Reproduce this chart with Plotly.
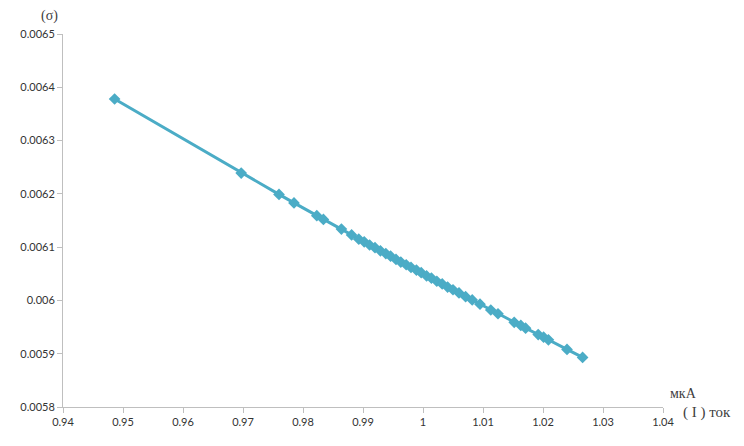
import plotly.graph_objects as go

# current (uA) and sigma readings taken from the chart
current = [0.9486, 0.9697, 0.9760, 0.9785, 0.9823, 0.9834, 0.9864, 0.9881, 0.9893,
           0.9902, 0.9911, 0.9920, 0.9929, 0.9938, 0.9946, 0.9955, 0.9963, 0.9972,
           0.9980, 0.9989, 0.9997, 1.0006, 1.0014, 1.0023, 1.0032, 1.0041, 1.0050,
           1.0060, 1.0071, 1.0082, 1.0095, 1.0113, 1.0125, 1.0152, 1.0163, 1.0171,
           1.0192, 1.0201, 1.0209, 1.0240, 1.0266]
sigma = [0.006378, 0.006239, 0.006199, 0.006183, 0.006159, 0.006152, 0.006134, 0.006123,
         0.006115, 0.006110, 0.006104, 0.006099, 0.006093, 0.006088, 0.006083, 0.006077,
         0.006072, 0.006067, 0.006062, 0.006057, 0.006052, 0.006046, 0.006042, 0.006036,
         0.006031, 0.006025, 0.006020, 0.006014, 0.006007, 0.006001, 0.005993, 0.005982,
         0.005975, 0.005959, 0.005953, 0.005948, 0.005936, 0.005931, 0.005926, 0.005908,
         0.005893]

x_ticks = [0.94, 0.95, 0.96, 0.97, 0.98, 0.99, 1.00, 1.01, 1.02, 1.03, 1.04]
x_labels = ["0.94", "0.95", "0.96", "0.97", "0.98", "0.99", "1", "1.01", "1.02", "1.03", "1.04"]
y_ticks = [0.0058, 0.0059, 0.0060, 0.0061, 0.0062, 0.0063, 0.0064, 0.0065]
y_labels = ["0.0058", "0.0059", "0.006", "0.0061", "0.0062", "0.0063", "0.0064", "0.0065"]

fig = go.Figure()

fig.add_trace(go.Scatter(
    x=current,
    y=sigma,
    mode='lines+markers',
    line=dict(color='#4BACC6', width=3),
    marker=dict(symbol='diamond', size=9, color='#4BACC6'),
    showlegend=False
))

axis_style = dict(
    showgrid=False,
    zeroline=False,
    showline=True,
    linecolor='#BFBFBF',
    linewidth=1,
    ticks='outside',
    ticklen=5,
    tickcolor='#BFBFBF',
    tickfont=dict(family='Lato, Open Sans, sans-serif', size=11, color='#333333'),
)

fig.update_xaxes(range=[0.94, 1.04], tickvals=x_ticks, ticktext=x_labels, **axis_style)
fig.update_yaxes(range=[0.0058, 0.0065], tickvals=y_ticks, ticktext=y_labels, **axis_style)

serif = dict(family='Liberation Serif, Times New Roman, serif', size=14, color='#404040')
fig.add_annotation(text="(σ)", xref='paper', yref='paper', x=-0.022, y=1.0,
                   xanchor='center', yanchor='bottom', yshift=8, showarrow=False, font=serif)
fig.add_annotation(text="мкА", xref='paper', yref='paper', x=1.008, y=0.0,
                   xanchor='left', yanchor='bottom', yshift=4, showarrow=False, font=serif)
fig.add_annotation(text="( I ) ток", xref='paper', yref='paper', x=1.03, y=0.0,
                   xanchor='left', yanchor='top', yshift=5, showarrow=False,
                   font=dict(family=serif['family'], size=15, color='#404040'))

# page body adds an 8px offset, so margins are shifted to keep the plot area in place
fig.update_layout(
    width=744,
    height=446,
    margin=dict(l=50, r=89, t=26, b=47),
    plot_bgcolor='white',
    paper_bgcolor='white',
)

fig.write_html("out.html")
